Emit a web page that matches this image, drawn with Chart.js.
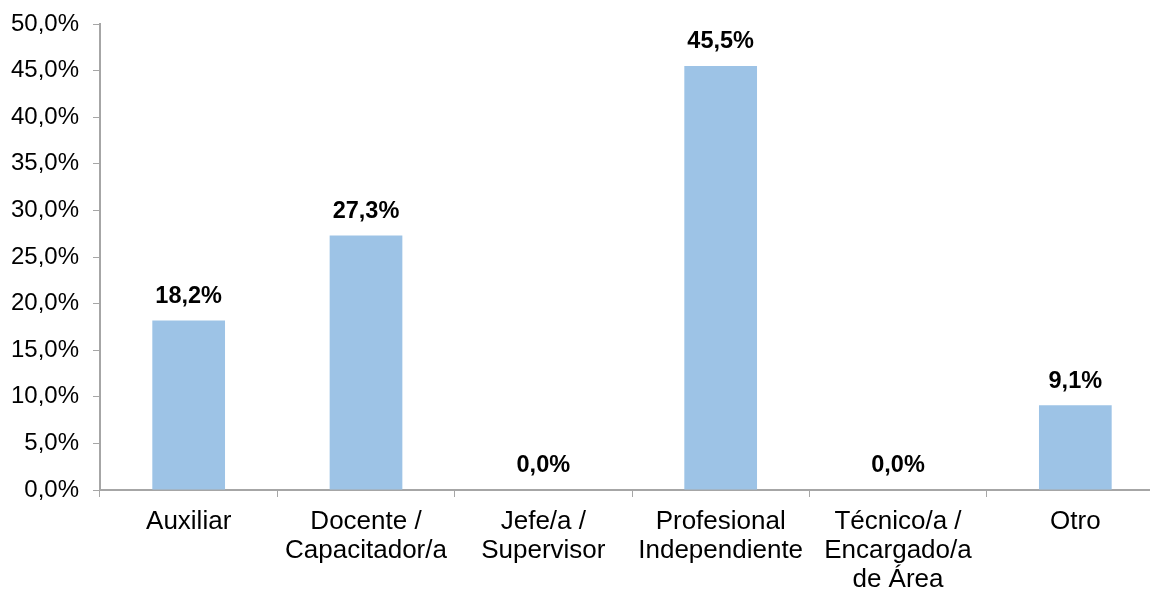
<!DOCTYPE html>
<html>
<head>
<meta charset="utf-8">
<script src="https://cdn.jsdelivr.net/npm/chart.js@4.4.0/dist/chart.umd.min.js"></script>
<style>
    html, body { margin: 0; padding: 0; background: #ffffff; overflow: hidden; }
    #wrap { position: absolute; left: 0; top: 0; width: 1166px; height: 591px; }
</style>
</head>
<body>
<div id="wrap"><canvas id="chart"></canvas></div>
<script>
// -----------------------------
// Data
// -----------------------------
const categories = [
    'Auxiliar',
    ['Docente /', 'Capacitador/a'],
    ['Jefe/a /', 'Supervisor'],
    ['Profesional', 'Independiente'],
    ['Técnico/a /', 'Encargado/a', 'de Área'],
    'Otro'
];
const values = [18.2, 27.3, 0.0, 45.5, 0.0, 9.1];
const yTicks = [0, 5, 10, 15, 20, 25, 30, 35, 40, 45, 50];

// -----------------------------
// Theme
// -----------------------------
const fontFamily = '"Liberation Sans", Arial, sans-serif';
const barColor = '#9dc3e6';
const axisColor = '#a6a6a6';

function pct(v) {
    return v.toFixed(1).replace('.', ',') + '%';
}

// value labels above bars
const valueLabels = {
    id: 'valueLabels',
    afterDatasetsDraw(chart) {
        const ctx = chart.ctx;
        const meta = chart.getDatasetMeta(0);
        ctx.save();
        ctx.font = 'bold 23.5px ' + fontFamily;
        ctx.fillStyle = '#000';
        ctx.textAlign = 'center';
        ctx.textBaseline = 'middle';
        meta.data.forEach((bar, i) => {
            ctx.fillText(pct(values[i]), bar.x, bar.y - 24);
        });
        ctx.restore();
    }
};

new Chart(document.getElementById('chart'), {
    type: 'bar',
    data: {
        labels: categories,
        datasets: [{
            data: values,
            backgroundColor: barColor,
            borderWidth: 0,
            categoryPercentage: 1,
            barPercentage: 0.41
        }]
    },
    options: {
        responsive: true,
        maintainAspectRatio: false,
        animation: false,
        layout: {padding: {top: 24, right: 2, left: 0, bottom: 0}},
        plugins: {
            legend: {display: false},
            tooltip: {enabled: false}
        },
        scales: {
            x: {
                grid: {
                    offset: true,
                    drawOnChartArea: false,
                    drawTicks: true,
                    tickLength: 7,
                    color: axisColor
                },
                border: {color: axisColor, width: 2},
                ticks: {
                    color: '#000',
                    font: {family: fontFamily, size: 26, lineHeight: 1.1},
                    padding: 11,
                    maxRotation: 0,
                    autoSkip: false
                },
                afterFit: axis => { axis.height = 101; }
            },
            y: {
                min: 0,
                max: 50,
                afterBuildTicks: axis => { axis.ticks = yTicks.map(v => ({value: v})); },
                grid: {
                    drawOnChartArea: false,
                    drawTicks: true,
                    tickLength: 7,
                    color: axisColor
                },
                border: {color: axisColor, width: 2},
                ticks: {
                    color: '#000',
                    font: {family: fontFamily, size: 24},
                    padding: 14,
                    callback: v => pct(v)
                },
                afterFit: axis => {
                    axis.width = 100;
                    axis.paddingTop = 0;
                    axis.paddingBottom = 0;
                }
            }
        }
    },
    plugins: [valueLabels]
});
</script>
</body>
</html>
